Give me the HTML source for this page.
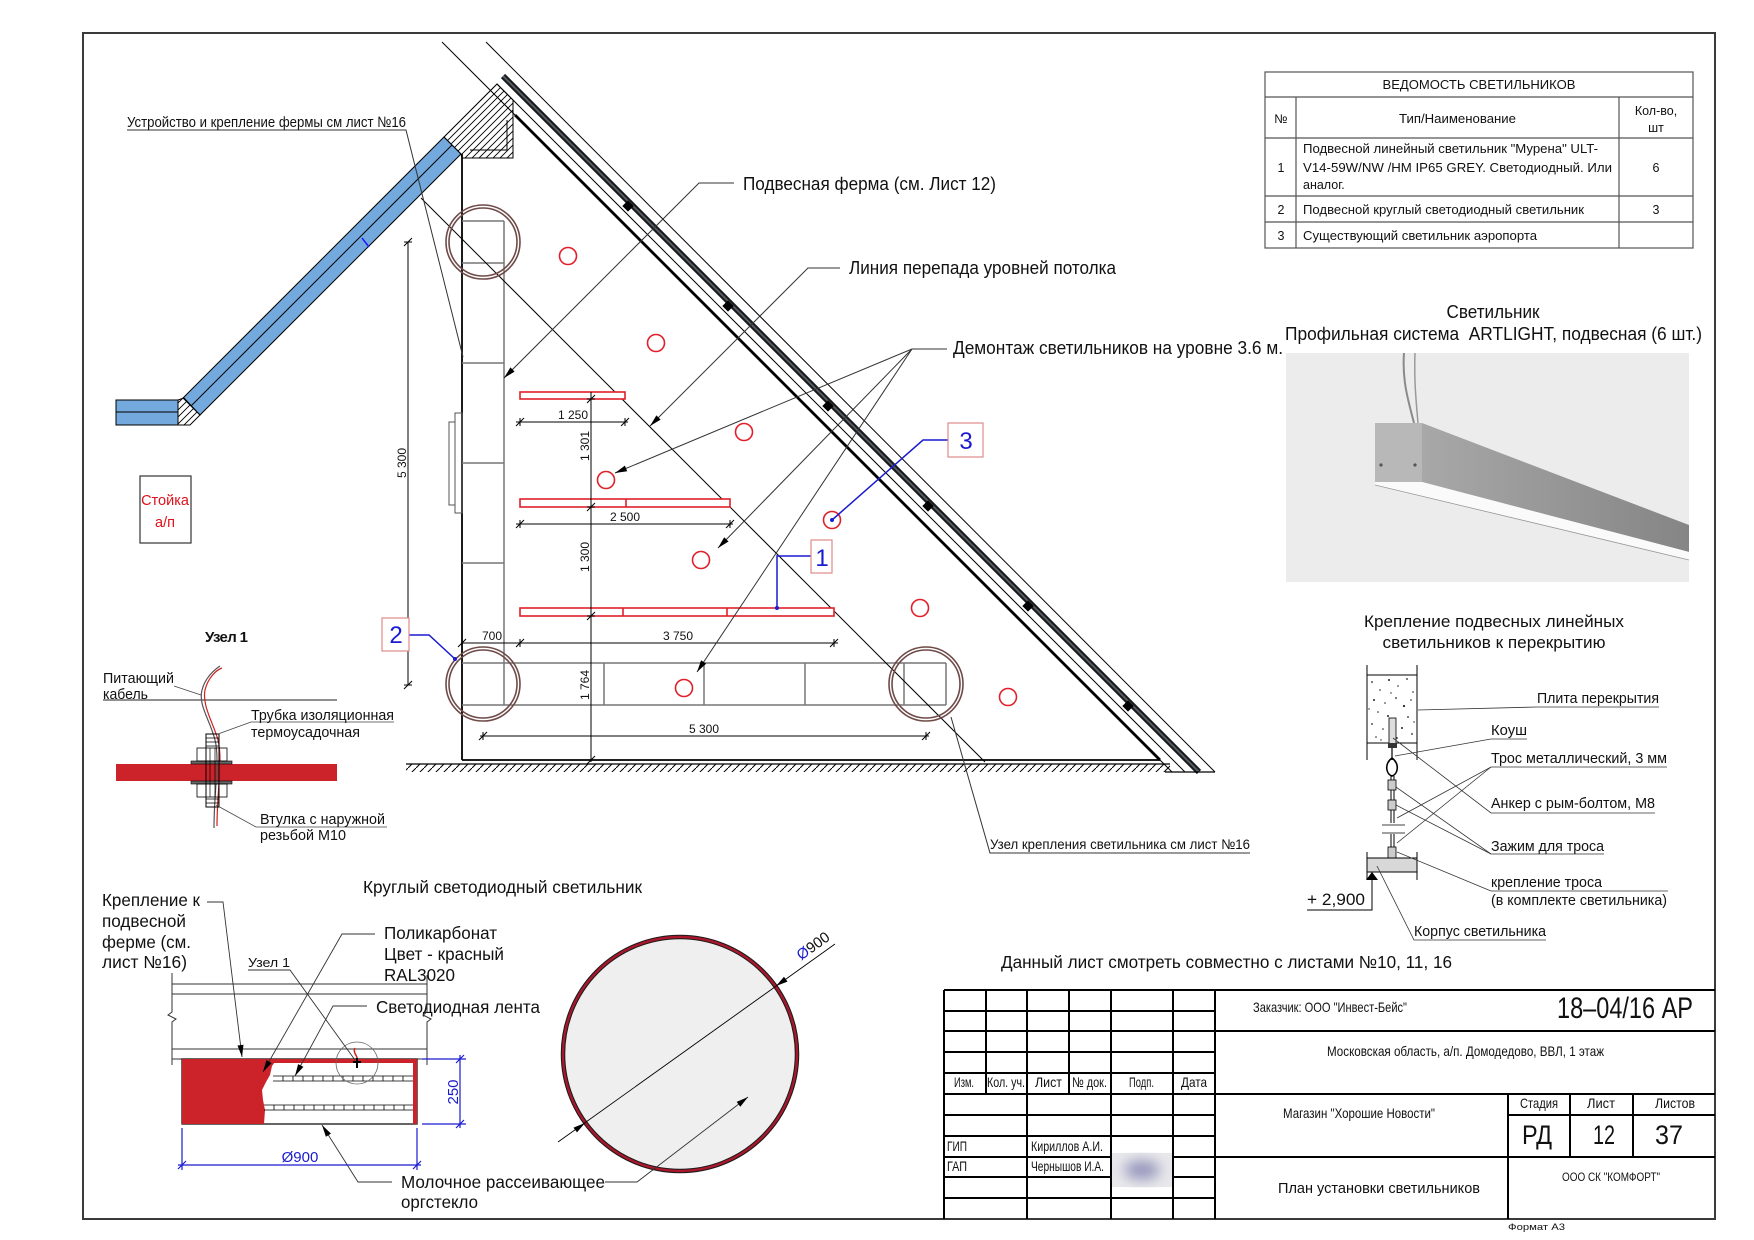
<!DOCTYPE html>
<html><head><meta charset="utf-8">
<style>
html,body{margin:0;padding:0;background:#fff;}
svg{display:block;}
text{font-family:"Liberation Sans","DejaVu Sans",sans-serif;fill:#111;}
.g{font-family:"Liberation Sans Narrow","Liberation Sans","DejaVu Sans",sans-serif;}
</style></head><body>
<svg width="1754" height="1240" viewBox="0 0 1754 1240" xmlns="http://www.w3.org/2000/svg">
<defs>
<pattern id="h8" patternUnits="userSpaceOnUse" width="8" height="8"><path d="M8,0 L0,8" stroke="#000" stroke-width="1"/></pattern>
<pattern id="h6" patternUnits="userSpaceOnUse" width="7" height="7"><path d="M-1,8 L8,-1 M-1,1 L1,-1 M6,8 L8,6" stroke="#000" stroke-width="0.9"/></pattern>
<filter id="bl" x="-50%" y="-50%" width="200%" height="200%"><feGaussianBlur stdDeviation="7"/></filter>
<linearGradient id="bar" x1="0" y1="0" x2="1" y2="0"><stop offset="0" stop-color="#a8a8a8"/><stop offset="1" stop-color="#858585"/></linearGradient>
</defs>

<!-- frame -->
<rect x="83" y="33" width="1632" height="1186" fill="none" stroke="#3a3a3a" stroke-width="2"/>

<!-- ================= TRIANGLE PLAN ================= -->
<polygon points="444,137 461,154 200,415 183,398" fill="#73a9dd" stroke="#000" stroke-width="1"/>
<line x1="452" y1="145" x2="191" y2="406" stroke="#000" stroke-width="1"/>
<line x1="362" y1="238" x2="369" y2="247" stroke="#1a1aff" stroke-width="1.5"/>
<rect x="116" y="400" width="62" height="25" fill="#73a9dd" stroke="#000" stroke-width="1"/>
<line x1="116" y1="412" x2="178" y2="412" stroke="#000" stroke-width="1"/>
<polygon points="178,400 184,398 200,415 190,425 178,425" fill="url(#h6)" stroke="#000" stroke-width="1"/>
<polygon points="444,137 497,84 513,100 513,158 462,158 461,154" fill="url(#h6)" stroke="#000" stroke-width="1"/>
<polyline points="470,150 507,150 507,120" fill="none" stroke="#000" stroke-width="1"/>

<line x1="442" y1="42" x2="515" y2="115" stroke="#000" stroke-width="1"/>
<line x1="515" y1="115" x2="1160" y2="760" stroke="#000" stroke-width="2.8"/>
<line x1="497" y1="84" x2="1185" y2="772" stroke="#000" stroke-width="1"/>
<line x1="503" y1="76" x2="1199" y2="772" stroke="#1c1c1c" stroke-width="6"/>
<line x1="503" y1="76" x2="1199" y2="772" stroke="#5a6570" stroke-width="1.6"/>
<line x1="486" y1="42" x2="1215" y2="772" stroke="#000" stroke-width="1"/>
<g fill="#000">
<rect x="624" y="202" width="8" height="8" transform="rotate(45 628 206)"/>
<rect x="724" y="302" width="8" height="8" transform="rotate(45 728 306)"/>
<rect x="824" y="402" width="8" height="8" transform="rotate(45 828 406)"/>
<rect x="924" y="502" width="8" height="8" transform="rotate(45 928 506)"/>
<rect x="1024" y="602" width="8" height="8" transform="rotate(45 1028 606)"/>
<rect x="1124" y="702" width="8" height="8" transform="rotate(45 1128 706)"/>
</g>

<line x1="462" y1="154" x2="462" y2="760" stroke="#000" stroke-width="1.8"/>
<line x1="462" y1="760" x2="1160" y2="760" stroke="#000" stroke-width="1.8"/>
<rect x="406" y="764" width="764" height="8" fill="url(#h8)"/>
<line x1="406" y1="764" x2="1170" y2="764" stroke="#000" stroke-width="1.2"/>
<line x1="1160" y1="760" x2="1172" y2="772" stroke="#000" stroke-width="1"/>
<line x1="1165" y1="772" x2="1215" y2="772" stroke="#000" stroke-width="1.2"/>
<rect x="449" y="422" width="6" height="83" fill="none" stroke="#555" stroke-width="1"/>
<rect x="455" y="413" width="7" height="100" fill="none" stroke="#555" stroke-width="1"/>

<g stroke="#777" stroke-width="1.5" fill="none">
<line x1="504" y1="221" x2="504" y2="705"/>
<line x1="462" y1="221" x2="504" y2="221"/>
<line x1="462" y1="263" x2="504" y2="263"/>
<line x1="462" y1="363" x2="504" y2="363"/>
<line x1="462" y1="463" x2="504" y2="463"/>
<line x1="462" y1="563" x2="504" y2="563"/>
<line x1="462" y1="663" x2="946" y2="663"/>
<line x1="462" y1="705" x2="946" y2="705"/>
<line x1="604" y1="663" x2="604" y2="705"/>
<line x1="704" y1="663" x2="704" y2="705"/>
<line x1="805" y1="663" x2="805" y2="705"/>
<line x1="904" y1="663" x2="904" y2="705"/>
<line x1="946" y1="663" x2="946" y2="705"/>
</g>

<line x1="421" y1="198" x2="985" y2="762" stroke="#000" stroke-width="1"/>

<g fill="none" stroke="#6e4a48" stroke-width="1.6">
<circle cx="483" cy="242" r="37"/><circle cx="483" cy="242" r="34"/>
<circle cx="483" cy="684" r="37"/><circle cx="483" cy="684" r="34"/>
<circle cx="926" cy="684" r="37"/><circle cx="926" cy="684" r="34"/>
</g>

<g fill="#fff" stroke="#e0202a" stroke-width="1.6">
<rect x="520" y="392" width="105" height="7"/>
<rect x="520" y="499" width="210" height="8"/>
<rect x="520" y="608" width="314" height="8"/>
<line x1="626" y1="499" x2="626" y2="507"/>
<line x1="623" y1="608" x2="623" y2="616"/>
<line x1="727" y1="608" x2="727" y2="616"/>
</g>

<g fill="none" stroke="#e0202a" stroke-width="1.6">
<circle cx="568" cy="256" r="8.5"/>
<circle cx="656" cy="343" r="8.5"/>
<circle cx="744" cy="432" r="8.5"/>
<circle cx="606" cy="480" r="8.5"/>
<circle cx="701" cy="560" r="8.5"/>
<circle cx="832" cy="520" r="8.5"/>
<circle cx="920" cy="608" r="8.5"/>
<circle cx="684" cy="688" r="8.5"/>
<circle cx="1008" cy="697" r="8.5"/>
</g>

<g stroke="#000" stroke-width="1" fill="none">
<line x1="408" y1="242" x2="408" y2="685"/>
<path d="M404,246 L412,238 M404,242 L412,242 M404,689 L412,681 M404,685 L412,685"/>
<line x1="516" y1="422" x2="628" y2="422"/>
<path d="M516,426 L524,418 M520,418 L520,426 M621,426 L629,418 M625,418 L625,426"/>
<line x1="516" y1="524" x2="733" y2="524"/>
<path d="M516,528 L524,520 M520,520 L520,528 M726,528 L734,520 M730,520 L730,528"/>
<line x1="462" y1="643" x2="838" y2="643"/>
<path d="M458,647 L466,639 M516,647 L524,639 M520,639 L520,647 M830,647 L838,639 M834,639 L834,647"/>
<line x1="480" y1="736" x2="929" y2="736"/>
<path d="M479,740 L487,732 M483,732 L483,740 M922,740 L930,732 M926,732 L926,740"/>
<line x1="591" y1="392" x2="591" y2="762"/>
<path d="M587,403 L595,395 M587,399 L595,399 M587,511 L595,503 M587,507 L595,507 M587,620 L595,612 M587,616 L595,616 M587,764 L595,756 M587,760 L595,760"/>
</g>
<g font-size="12">
<text x="573" y="419" text-anchor="middle">1 250</text>
<text x="625" y="521" text-anchor="middle">2 500</text>
<text x="492" y="640" text-anchor="middle">700</text>
<text x="678" y="640" text-anchor="middle">3 750</text>
<text x="704" y="733" text-anchor="middle">5 300</text>
<text transform="translate(406,463) rotate(-90)" text-anchor="middle">5 300</text>
<text transform="translate(589,446) rotate(-90)" text-anchor="middle">1 301</text>
<text transform="translate(589,557) rotate(-90)" text-anchor="middle">1 300</text>
<text transform="translate(589,685) rotate(-90)" text-anchor="middle">1 764</text>
</g>

<g stroke="#333" stroke-width="1" fill="none">
<polyline points="127,130 406,130 463,357"/>
<polyline points="734,183 699,183 504,378"/>
<polyline points="840,268 808,268 650,426"/>
<polyline points="947,349 912,349 615,473"/>
<line x1="912" y1="349" x2="718" y2="548"/>
<line x1="912" y1="349" x2="697" y2="672"/>
<polyline points="951,717 990,853 1250,853"/>
</g>
<g fill="#000">
<polygon points="504,378 514.6,371.6 510.4,367.4"/>
<polygon points="650,426 660.6,419.6 656.4,415.4"/>
<polygon points="615,473 627.2,471.2 624.9,465.6"/>
<polygon points="718,548 728.5,541.5 724.2,537.3"/>
<polygon points="697,672 706.1,663.7 701.1,660.3"/>
</g>

<text x="127" y="127" font-size="15" textLength="279" lengthAdjust="spacingAndGlyphs">Устройство и крепление фермы см лист №16</text>
<text x="743" y="190" font-size="18.5" textLength="253" lengthAdjust="spacingAndGlyphs">Подвесная ферма (см. Лист 12)</text>
<text x="849" y="274" font-size="18.5" textLength="267" lengthAdjust="spacingAndGlyphs">Линия перепада уровней потолка</text>
<text x="953" y="354" font-size="18.5" textLength="330" lengthAdjust="spacingAndGlyphs">Демонтаж светильников на уровне 3.6 м.</text>
<text x="990" y="849" font-size="14" textLength="260" lengthAdjust="spacingAndGlyphs">Узел крепления светильника см лист №16</text>

<g stroke="#1a1ad0" stroke-width="1.5" fill="none">
<polyline points="948,440 923,440 832,520"/>
<polyline points="811,556 777,556 777,608"/>
<polyline points="409,635 429,635 455,659"/>
</g>
<g fill="#1a1ad0"><circle cx="832" cy="520" r="2"/><circle cx="777" cy="608" r="2"/><circle cx="455" cy="659" r="2"/></g>
<g fill="#fff" stroke="#e08a8a" stroke-width="1.2">
<rect x="948" y="423" width="35" height="34"/>
<rect x="811" y="540" width="21" height="33"/>
<rect x="382" y="618" width="27" height="33"/>
</g>
<g font-size="24" text-anchor="middle">
<text x="966" y="449" style="fill:#1a1ad0">3</text>
<text x="822" y="566" style="fill:#1a1ad0">1</text>
<text x="396" y="643" style="fill:#1a1ad0">2</text>
</g>

<rect x="140" y="476" width="51" height="67" fill="none" stroke="#333" stroke-width="1.2"/>
<text x="165" y="505" font-size="14.5" text-anchor="middle" style="fill:#e0101a">Стойка</text>
<text x="165" y="527" font-size="14.5" text-anchor="middle" style="fill:#e0101a">а/п</text>

<!-- ================= УЗЕЛ 1 ================= -->
<text x="205" y="642" font-size="15" font-weight="bold" textLength="43">Узел 1</text>
<text x="103" y="683" font-size="15" textLength="71" lengthAdjust="spacingAndGlyphs">Питающий</text>
<text x="103" y="699" font-size="15" textLength="45" lengthAdjust="spacingAndGlyphs">кабель</text>
<line x1="103" y1="700" x2="337" y2="700" stroke="#222" stroke-width="1"/>
<line x1="174" y1="686" x2="201" y2="695" stroke="#444" stroke-width="0.8"/>
<rect x="116" y="764" width="221" height="17" fill="#cc2229"/>
<path d="M214,828 C214,790 220,760 215,740 C210,720 198,705 202,690 C205,678 214,670 220,666" fill="none" stroke="#555" stroke-width="1.2"/>
<path d="M217,826 C217,790 223,760 218,740 C213,722 202,706 205,690 C208,678 216,670 222,668" fill="none" stroke="#d02020" stroke-width="1.2"/>
<rect x="191" y="761" width="41" height="3" fill="#666" stroke="#000" stroke-width="0.6"/>
<rect x="191" y="781" width="41" height="3" fill="#666" stroke="#000" stroke-width="0.6"/>
<rect x="197" y="748" width="30" height="13" fill="none" stroke="#000" stroke-width="0.8"/>
<rect x="197" y="784" width="30" height="13" fill="none" stroke="#000" stroke-width="0.8"/>
<rect x="206" y="734" width="13" height="73" fill="none" stroke="#000" stroke-width="1"/>
<path d="M206,738 H219 M206,742 H219 M206,746 H219 M206,799 H219 M206,803 H219 M210,748 V797 M215,748 V797" stroke="#000" stroke-width="0.7"/>
<polyline points="394,722 251,722 218,734" fill="none" stroke="#444" stroke-width="0.8"/>
<polyline points="387,827 256,827 216,805" fill="none" stroke="#444" stroke-width="0.8"/>
<text x="251" y="720" font-size="15" textLength="143" lengthAdjust="spacingAndGlyphs">Трубка изоляционная</text>
<text x="251" y="737" font-size="15" textLength="109" lengthAdjust="spacingAndGlyphs">термоусадочная</text>
<text x="260" y="824" font-size="15" textLength="125" lengthAdjust="spacingAndGlyphs">Втулка с наружной</text>
<text x="260" y="840" font-size="15" textLength="86" lengthAdjust="spacingAndGlyphs">резьбой М10</text>

<!-- ================= TOP RIGHT TABLE ================= -->
<g stroke="#555" stroke-width="1.2" fill="none">
<rect x="1265" y="72" width="428" height="176"/>
<line x1="1265" y1="97" x2="1693" y2="97"/>
<line x1="1265" y1="138" x2="1693" y2="138"/>
<line x1="1265" y1="196" x2="1693" y2="196"/>
<line x1="1265" y1="222" x2="1693" y2="222"/>
<line x1="1296" y1="97" x2="1296" y2="248"/>
<line x1="1619" y1="97" x2="1619" y2="248"/>
</g>
<g font-size="12.5">
<text x="1479" y="89" text-anchor="middle" font-size="13" textLength="193" lengthAdjust="spacingAndGlyphs">ВЕДОМОСТЬ СВЕТИЛЬНИКОВ</text>
<text x="1281" y="123" text-anchor="middle">№</text>
<text x="1399" y="123" textLength="117" lengthAdjust="spacingAndGlyphs">Тип/Наименование</text>
<text x="1656" y="115" text-anchor="middle">Кол-во,</text>
<text x="1656" y="132" text-anchor="middle">шт</text>
<text x="1281" y="172" text-anchor="middle">1</text>
<text x="1303" y="153" textLength="295" lengthAdjust="spacingAndGlyphs">Подвесной линейный светильник "Мурена" ULT-</text>
<text x="1303" y="172" textLength="309" lengthAdjust="spacingAndGlyphs">V14-59W/NW /HM IP65 GREY. Светодиодный. Или</text>
<text x="1303" y="189">аналог.</text>
<text x="1656" y="172" text-anchor="middle">6</text>
<text x="1281" y="214" text-anchor="middle">2</text>
<text x="1303" y="214" textLength="281" lengthAdjust="spacingAndGlyphs">Подвесной круглый светодиодный светильник</text>
<text x="1656" y="214" text-anchor="middle">3</text>
<text x="1281" y="240" text-anchor="middle">3</text>
<text x="1303" y="240" textLength="234" lengthAdjust="spacingAndGlyphs">Существующий светильник аэропорта</text>
</g>

<!-- ================= PRODUCT IMAGE ================= -->
<text x="1493" y="318" font-size="18.5" text-anchor="middle" textLength="93" lengthAdjust="spacingAndGlyphs">Светильник</text>
<text x="1285" y="340" font-size="18.5" xml:space="preserve" textLength="417" lengthAdjust="spacingAndGlyphs">Профильная система  ARTLIGHT, подвесная (6 шт.)</text>
<rect x="1286" y="353" width="403" height="229" fill="#ececec"/>
<path d="M1404,353 C1402,380 1408,400 1414,423" fill="none" stroke="#8a8a8a" stroke-width="2"/>
<path d="M1415,353 C1414,380 1416,400 1418,423" fill="none" stroke="#9a9a9a" stroke-width="1.5"/>
<polygon points="1422,423 1689,525 1689,552 1422,482" fill="url(#bar)"/>
<rect x="1375" y="423" width="47" height="59" fill="#b8b8b8"/>
<polygon points="1375,482 1422,482 1689,552 1689,560 1375,485" fill="#fafafa"/>
<line x1="1375" y1="485" x2="1689" y2="560" stroke="#999" stroke-width="0.8"/>
<circle cx="1381" cy="465" r="1.6" fill="#555"/><circle cx="1415" cy="465" r="1.6" fill="#555"/>

<!-- ================= MOUNTING DETAIL ================= -->
<text x="1494" y="627" font-size="17" text-anchor="middle" textLength="260" lengthAdjust="spacingAndGlyphs">Крепление подвесных линейных</text>
<text x="1494" y="648" font-size="17" text-anchor="middle" textLength="223" lengthAdjust="spacingAndGlyphs">светильников к перекрытию</text>
<rect x="1367" y="675" width="50" height="68" fill="#fff" stroke="#000" stroke-width="1"/>
<g stroke="#000" stroke-width="1"><line x1="1367" y1="665" x2="1367" y2="760"/><line x1="1417" y1="665" x2="1417" y2="760"/></g>
<g fill="#222">
<circle cx="1372" cy="682" r="0.9"/><circle cx="1380" cy="690" r="0.8"/><circle cx="1389" cy="680" r="1"/><circle cx="1398" cy="686" r="0.8"/><circle cx="1407" cy="679" r="0.9"/><circle cx="1413" cy="692" r="0.8"/>
<circle cx="1374" cy="700" r="1"/><circle cx="1385" cy="703" r="0.8"/><circle cx="1396" cy="698" r="0.9"/><circle cx="1404" cy="706" r="1.1"/><circle cx="1411" cy="700" r="0.8"/><circle cx="1378" cy="712" r="0.8"/>
<circle cx="1388" cy="716" r="1"/><circle cx="1408" cy="717" r="0.9"/><circle cx="1372" cy="724" r="0.9"/><circle cx="1383" cy="729" r="0.8"/><circle cx="1402" cy="728" r="1"/><circle cx="1412" cy="734" r="0.9"/>
<circle cx="1376" cy="737" r="0.8"/><circle cx="1397" cy="738" r="0.9"/><circle cx="1391" cy="693" r="0.7"/><circle cx="1369" cy="709" r="0.7"/><circle cx="1414" cy="722" r="0.7"/><circle cx="1381" cy="740" r="0.7"/>
</g>
<rect x="1389" y="718" width="7" height="26" fill="#ddd" stroke="#000" stroke-width="0.8"/>
<rect x="1388" y="743" width="9" height="5" fill="#333"/>
<line x1="1392" y1="748" x2="1392" y2="760" stroke="#000" stroke-width="1.2"/>
<path d="M1392,758 C1384,764 1386,774 1392,776 C1398,774 1400,764 1392,758 Z" fill="none" stroke="#000" stroke-width="1.6"/>
<g stroke="#000" stroke-width="1"><line x1="1391" y1="776" x2="1391" y2="847"/><line x1="1394" y1="776" x2="1394" y2="847"/></g>
<rect x="1388" y="780" width="8" height="10" fill="#ccc" stroke="#000" stroke-width="0.8"/>
<rect x="1388" y="800" width="8" height="10" fill="#ccc" stroke="#000" stroke-width="0.8"/>
<rect x="1382" y="823" width="23" height="11" fill="#fff"/>
<g stroke="#000" stroke-width="0.8"><line x1="1382" y1="825" x2="1405" y2="825"/><line x1="1382" y1="833" x2="1405" y2="833"/></g>
<rect x="1388" y="847" width="8" height="11" fill="#ccc" stroke="#000" stroke-width="0.8"/>
<rect x="1367" y="858" width="50" height="14" fill="#d8d8d8" stroke="#000" stroke-width="1"/>
<g stroke="#000" stroke-width="1"><line x1="1367" y1="852" x2="1367" y2="880"/><line x1="1417" y1="852" x2="1417" y2="880"/></g>
<polygon points="1372,872 1366,880 1378,880" fill="#000"/>
<polyline points="1307,910 1372,910 1372,880" fill="none" stroke="#000" stroke-width="1"/>
<text x="1307" y="905" font-size="16.5" textLength="58" lengthAdjust="spacingAndGlyphs">+ 2,900</text>
<g stroke="#333" stroke-width="0.8" fill="none">
<polyline points="1659,707 1537,707 1418,710"/>
<polyline points="1527,739 1491,739 1395,756"/>
<polyline points="1667,767 1491,767 1397,818"/>
<line x1="1491" y1="767" x2="1397" y2="843"/>
<polyline points="1655,813 1491,813 1393,738"/>
<polyline points="1604,854 1491,854 1396,787"/>
<line x1="1491" y1="854" x2="1396" y2="805"/>
<polyline points="1668,891 1491,891 1397,852"/>
<polyline points="1546,940 1414,940 1377,866"/>
</g>
<g font-size="14.5">
<text x="1537" y="703" textLength="122" lengthAdjust="spacingAndGlyphs">Плита перекрытия</text>
<text x="1491" y="735" textLength="36" lengthAdjust="spacingAndGlyphs">Коуш</text>
<text x="1491" y="763" textLength="176" lengthAdjust="spacingAndGlyphs">Трос металлический, 3 мм</text>
<text x="1491" y="808" textLength="164" lengthAdjust="spacingAndGlyphs">Анкер с рым-болтом, М8</text>
<text x="1491" y="851" textLength="113" lengthAdjust="spacingAndGlyphs">Зажим для троса</text>
<text x="1491" y="887" textLength="111" lengthAdjust="spacingAndGlyphs">крепление троса</text>
<text x="1491" y="905" textLength="176" lengthAdjust="spacingAndGlyphs">(в комплекте светильника)</text>
<text x="1414" y="936" textLength="132" lengthAdjust="spacingAndGlyphs">Корпус светильника</text>
</g>

<!-- ================= ROUND LUMINAIRE ================= -->
<text x="363" y="893" font-size="17.5" textLength="279" lengthAdjust="spacingAndGlyphs">Круглый светодиодный светильник</text>
<g font-size="17.5">
<text x="102" y="906" textLength="98" lengthAdjust="spacingAndGlyphs">Крепление к</text>
<text x="102" y="927" textLength="84" lengthAdjust="spacingAndGlyphs">подвесной</text>
<text x="102" y="948" textLength="89" lengthAdjust="spacingAndGlyphs">ферме (см.</text>
<text x="102" y="968" textLength="85" lengthAdjust="spacingAndGlyphs">лист №16)</text>
<text x="384" y="939" textLength="113" lengthAdjust="spacingAndGlyphs">Поликарбонат</text>
<text x="384" y="960" textLength="120" lengthAdjust="spacingAndGlyphs">Цвет - красный</text>
<text x="384" y="981" textLength="71" lengthAdjust="spacingAndGlyphs">RAL3020</text>
<text x="376" y="1013" textLength="164" lengthAdjust="spacingAndGlyphs">Светодиодная лента</text>
<text x="401" y="1188" textLength="204" lengthAdjust="spacingAndGlyphs">Молочное рассеивающее</text>
<text x="401" y="1208" textLength="77" lengthAdjust="spacingAndGlyphs">оргстекло</text>
</g>
<g stroke="#333" stroke-width="1" fill="none">
<line x1="172" y1="984" x2="427" y2="984"/>
<line x1="172" y1="994" x2="427" y2="994"/>
<line x1="172" y1="1049" x2="427" y2="1049"/>
<line x1="172" y1="1059" x2="427" y2="1059"/>
<polyline points="172,973 172,1012 168,1015 176,1019 172,1022 172,1065"/>
<polyline points="427,975 427,1012 423,1015 431,1019 427,1022 427,1065"/>
</g>
<rect x="182" y="1059" width="235" height="65" fill="#fff" stroke="#000" stroke-width="1.2"/>
<rect x="182" y="1059" width="235" height="4" fill="#cc2229"/>
<rect x="413" y="1059" width="4" height="65" fill="#cc2229"/>
<polygon points="182,1059 277,1059 272,1066 270,1075 266,1082 262,1090 263,1100 265,1110 264,1124 182,1124" fill="#cc2229"/>
<g stroke="#000" stroke-width="0.8" fill="none">
<line x1="273" y1="1076" x2="413" y2="1076"/><line x1="273" y1="1081" x2="413" y2="1081"/>
<line x1="264" y1="1105" x2="413" y2="1105"/><line x1="264" y1="1110" x2="413" y2="1110"/>
<path d="M283,1076V1081 M293,1076V1081 M303,1076V1081 M313,1076V1081 M323,1076V1081 M333,1076V1081 M343,1076V1081 M353,1076V1081 M363,1076V1081 M373,1076V1081 M383,1076V1081 M393,1076V1081 M403,1076V1081"/>
<path d="M274,1105V1110 M284,1105V1110 M294,1105V1110 M304,1105V1110 M314,1105V1110 M324,1105V1110 M334,1105V1110 M344,1105V1110 M354,1105V1110 M364,1105V1110 M374,1105V1110 M384,1105V1110 M394,1105V1110 M404,1105V1110"/>
</g>
<circle cx="357" cy="1063" r="21" fill="none" stroke="#666" stroke-width="0.8"/>
<path d="M355,1048 C352,1054 360,1056 356,1062" stroke="#d02020" stroke-width="1.5" fill="none"/>
<path d="M353,1062 H361 M357,1058 V1068" stroke="#000" stroke-width="2"/>
<g stroke="#333" stroke-width="0.9" fill="none">
<polyline points="207,902 223,902 242,1057"/>
<polyline points="375,934 342,934 263,1072"/>
<polyline points="367,1006 333,1006 295,1076"/>
<polyline points="248,970 290,970 355,1060"/>
<polyline points="392,1182 358,1182 322,1125"/>
</g>
<g fill="#000">
<polygon points="242,1057 243.5,1044.7 237.5,1045.5"/>
<polygon points="263,1072 271.6,1063.1 266.4,1060.1"/>
<polygon points="295,1076 303.4,1066.9 298.1,1064.1"/>
<polygon points="322,1125 331,1133.6 325.9,1136.8"/>
</g>
<text x="248" y="967" font-size="13" textLength="42" lengthAdjust="spacingAndGlyphs">Узел 1</text>
<g stroke="#1a1ad0" stroke-width="1.2" fill="none">
<line x1="460" y1="1055" x2="460" y2="1128"/>
<line x1="422" y1="1059" x2="466" y2="1059"/>
<line x1="422" y1="1124" x2="466" y2="1124"/>
<path d="M456,1063 L464,1055 M456,1128 L464,1120"/>
<line x1="178" y1="1165" x2="421" y2="1165"/>
<line x1="182" y1="1128" x2="182" y2="1170"/>
<line x1="417" y1="1128" x2="417" y2="1170"/>
<path d="M178,1169 L186,1161 M413,1169 L421,1161"/>
</g>
<text transform="translate(458,1092) rotate(-90)" font-size="15" text-anchor="middle" style="fill:#1a1ad0">250</text>
<text x="300" y="1162" font-size="15" text-anchor="middle" style="fill:#1a1ad0">Ø900</text>

<circle cx="680" cy="1054" r="117" fill="#efefef" stroke="#1a1a1a" stroke-width="4.5"/>
<circle cx="680" cy="1054" r="117" fill="none" stroke="#a8172b" stroke-width="2.4"/>
<line x1="558" y1="1142" x2="835" y2="944" stroke="#000" stroke-width="0.9"/>
<polygon points="585,1123 577,1132.4 573.5,1127.6" fill="#000"/>
<polygon points="776,986 787.5,981.6 784,976.8" fill="#000"/>
<text transform="translate(816,950) rotate(-35.6)" font-size="15" text-anchor="middle"><tspan style="fill:#1a1ad0">Ø</tspan>900</text>
<polyline points="605,1182 637,1182 748,1097" fill="none" stroke="#333" stroke-width="0.9"/>
<polygon points="748,1097 740.3,1106.7 736.7,1101.9" fill="#000"/>

<!-- ================= TITLE BLOCK ================= -->
<text x="1001" y="968" font-size="17.5" textLength="451" lengthAdjust="spacingAndGlyphs">Данный лист смотреть совместно с листами №10, 11, 16</text>
<g stroke="#000" stroke-width="2" fill="none">
<line x1="944" y1="990" x2="1715" y2="990"/>
<line x1="944" y1="990" x2="944" y2="1219"/>
<line x1="944" y1="1011" x2="1215" y2="1011"/>
<line x1="944" y1="1031" x2="1715" y2="1031"/>
<line x1="944" y1="1052" x2="1215" y2="1052"/>
<line x1="944" y1="1073" x2="1215" y2="1073"/>
<line x1="944" y1="1094" x2="1715" y2="1094"/>
<line x1="944" y1="1115" x2="1215" y2="1115"/>
<line x1="1508" y1="1115" x2="1715" y2="1115"/>
<line x1="944" y1="1136" x2="1215" y2="1136"/>
<line x1="944" y1="1157" x2="1715" y2="1157"/>
<line x1="944" y1="1177" x2="1215" y2="1177"/>
<line x1="944" y1="1198" x2="1215" y2="1198"/>
<line x1="986" y1="990" x2="986" y2="1094"/>
<line x1="1069" y1="990" x2="1069" y2="1094"/>
<line x1="1027" y1="990" x2="1027" y2="1219"/>
<line x1="1111" y1="990" x2="1111" y2="1219"/>
<line x1="1173" y1="990" x2="1173" y2="1219"/>
<line x1="1215" y1="990" x2="1215" y2="1219"/>
<line x1="1508" y1="1094" x2="1508" y2="1219"/>
<line x1="1570" y1="1094" x2="1570" y2="1157"/>
<line x1="1633" y1="1094" x2="1633" y2="1157"/>
</g>
<rect x="1112" y="1153" width="60" height="34" fill="#e9e9ec"/>
<ellipse cx="1142" cy="1170" rx="18" ry="9" fill="#8e8eb8" filter="url(#bl)"/>
<g class="g" font-size="14">
<text class="g" x="954" y="1087" textLength="20" lengthAdjust="spacingAndGlyphs">Изм.</text>
<text class="g" x="987" y="1087" textLength="38" lengthAdjust="spacingAndGlyphs">Кол. уч.</text>
<text class="g" x="1035" y="1087" textLength="27" lengthAdjust="spacingAndGlyphs">Лист</text>
<text class="g" x="1072" y="1087" textLength="35" lengthAdjust="spacingAndGlyphs">№ док.</text>
<text class="g" x="1129" y="1087" textLength="25" lengthAdjust="spacingAndGlyphs">Подп.</text>
<text class="g" x="1181" y="1087" textLength="26" lengthAdjust="spacingAndGlyphs">Дата</text>
<text class="g" x="947" y="1151" textLength="20" lengthAdjust="spacingAndGlyphs">ГИП</text>
<text class="g" x="947" y="1171" textLength="20" lengthAdjust="spacingAndGlyphs">ГАП</text>
<text class="g" x="1031" y="1151" textLength="72" lengthAdjust="spacingAndGlyphs">Кириллов А.И.</text>
<text class="g" x="1031" y="1171" textLength="73" lengthAdjust="spacingAndGlyphs">Чернышов И.А.</text>
<text class="g" x="1253" y="1012" textLength="154" lengthAdjust="spacingAndGlyphs">Заказчик: ООО "Инвест-Бейс"</text>
<text class="g" x="1327" y="1056" textLength="277" lengthAdjust="spacingAndGlyphs">Московская область, а/п. Домодедово, ВВЛ, 1 этаж</text>
<text class="g" x="1283" y="1118" textLength="152" lengthAdjust="spacingAndGlyphs">Магазин "Хорошие Новости"</text>
<text class="g" x="1520" y="1108" textLength="38" lengthAdjust="spacingAndGlyphs">Стадия</text>
<text class="g" x="1587" y="1108" textLength="28" lengthAdjust="spacingAndGlyphs">Лист</text>
<text class="g" x="1655" y="1108" textLength="40" lengthAdjust="spacingAndGlyphs">Листов</text>
<text class="g" x="1562" y="1181" font-size="12" textLength="98" lengthAdjust="spacingAndGlyphs">ООО СК "КОМФОРТ"</text>
</g>
<text class="g" x="1557" y="1018" font-size="30" textLength="136" lengthAdjust="spacingAndGlyphs">18–04/16 АР</text>
<text class="g" x="1522" y="1144" font-size="27" textLength="30" lengthAdjust="spacingAndGlyphs">РД</text>
<text class="g" x="1593" y="1144" font-size="27" textLength="22" lengthAdjust="spacingAndGlyphs">12</text>
<text class="g" x="1655" y="1144" font-size="27" textLength="28" lengthAdjust="spacingAndGlyphs">37</text>
<text x="1278" y="1193" font-size="15" textLength="202" lengthAdjust="spacingAndGlyphs">План установки светильников</text>
<text class="g" x="1508" y="1230" font-size="9.5" textLength="57" lengthAdjust="spacingAndGlyphs">Формат А3</text>
</svg>
</body></html>
